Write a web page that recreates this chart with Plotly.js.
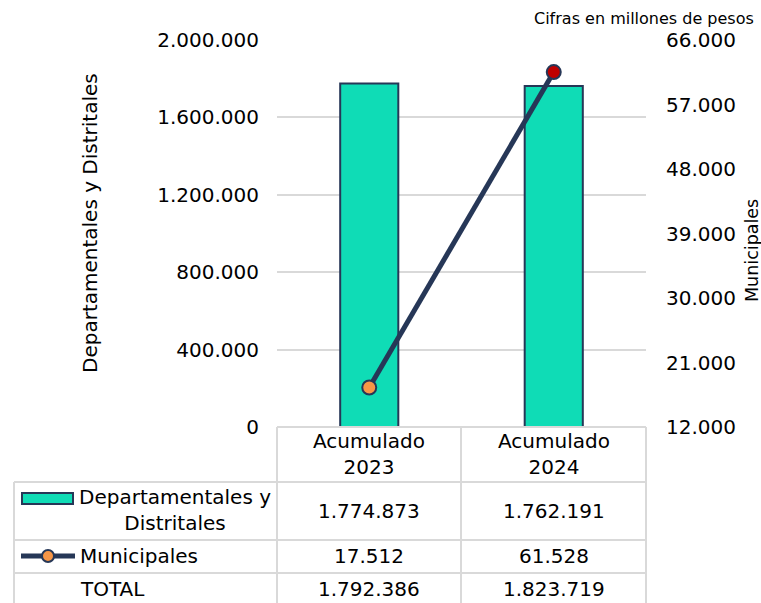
<!DOCTYPE html>
<html>
<head>
<meta charset="utf-8">
<script src="https://cdn.plot.ly/plotly-3.0.1.min.js"></script>
<style>html,body{margin:0;padding:0;background:#fff;}#chart{width:761px;height:603px;}</style>
</head>
<body>
<div id="chart"></div>
<script>
// ---- data ----
const categories = ['Acumulado 2023', 'Acumulado 2024'];
const headerLabels = ['Acumulado<br>2023', 'Acumulado<br>2024'];
const deptValues = [1774873, 1762191];
const muniValues = [17512, 61528];
const totalValues = [1792386, 1823719];
const seriesNames = ['Departamentales y<br>Distritales', 'Municipales', 'TOTAL'];
const leftTitle = 'Departamentales y Distritales';
const rightTitle = 'Municipales';
const noteText = 'Cifras en millones de pesos';

// ---- layout constants (pixels) ----
const W = 761, H = 603;
const L = 277, R = 646, T = 40, B = 427;
const pw = R - L, ph = B - T;
const px = x => (x - L) / pw;
const py = y => (B - y) / ph;
const FONT = 'DejaVu Sans, Verdana, sans-serif';
const grid = '#d9d9d9';
const navy = '#263757';
const teal = '#0fdcb6';
const FS = 20;

function fmt(n) { return Math.round(n).toString().replace(/\B(?=(\d{3})+(?!\d))/g, '.'); }

const traces = [
  {
    type: 'bar', x: categories, y: deptValues, name: 'Departamentales y Distritales',
    width: 0.315, marker: {color: teal, line: {color: navy, width: 2}},
    hoverinfo: 'skip'
  },
  {
    type: 'scatter', mode: 'lines+markers', x: categories, y: muniValues, yaxis: 'y2',
    name: 'Municipales',
    line: {color: navy, width: 5},
    marker: {size: 14, color: ['#f79646', '#c00000'], line: {color: navy, width: 2}},
    hoverinfo: 'skip'
  }
];

// ---- table (shapes + annotations) ----
const shapes = [];
function hline(x0, x1, y) { shapes.push({type: 'line', xref: 'paper', yref: 'paper', x0: px(x0), x1: px(x1), y0: py(y), y1: py(y), line: {color: grid, width: 2}}); }
function vline(x, y0, y1) { shapes.push({type: 'line', xref: 'paper', yref: 'paper', x0: px(x), x1: px(x), y0: py(y0), y1: py(y1), line: {color: grid, width: 2}}); }
hline(277, 646, 427);
hline(14, 646, 482);
hline(14, 646, 540);
hline(14, 646, 573);
vline(14, 482, 610);
vline(277, 427, 610);
vline(461, 427, 610);
vline(646, 427, 610);
// legend swatches
shapes.push({type: 'rect', xref: 'paper', yref: 'paper', x0: px(22), x1: px(73), y0: py(504), y1: py(493), fillcolor: teal, line: {color: navy, width: 2}});
shapes.push({type: 'line', xref: 'paper', yref: 'paper', x0: px(21), x1: px(75), y0: py(556), y1: py(556), line: {color: navy, width: 5}});
shapes.push({type: 'circle', xref: 'paper', yref: 'paper', x0: px(42), x1: px(54), y0: py(562), y1: py(550), fillcolor: '#f79646', line: {color: navy, width: 2}});

const ann = [];
function txt(text, x, y, opts) {
  ann.push(Object.assign({text: text, xref: 'paper', yref: 'paper', x: px(x), y: py(y), showarrow: false,
    xanchor: 'center', yanchor: 'middle', font: {family: FONT, size: FS, color: '#000'}}, opts || {}));
}
const colCenters = [(277 + 461) / 2, (461 + 646) / 2];
const rowCenters = [454, 511, 556, 589];
for (let i = 0; i < categories.length; i++) {
  txt(headerLabels[i], colCenters[i], rowCenters[0]);
  txt(fmt(deptValues[i]), colCenters[i], rowCenters[1]);
  txt(fmt(muniValues[i]), colCenters[i], rowCenters[2]);
  txt(fmt(totalValues[i]), colCenters[i], rowCenters[3]);
}
txt(seriesNames[0], 175, 510, {align: 'center'});
txt(seriesNames[1], 78, rowCenters[2], {xanchor: 'left'});
txt(seriesNames[2], 78, rowCenters[3], {xanchor: 'left'});
// axis titles & note
txt(leftTitle, 90, 223, {textangle: -90, font: {family: FONT, size: 20, color: '#000'}});
txt(rightTitle, 752, 251, {textangle: -90, font: {family: FONT, size: 17.5, color: '#000'}});
txt(noteText, 756, 18, {xanchor: 'right', font: {family: FONT, size: 16, color: '#000'}});

const layout = {
  width: W, height: H,
  margin: {l: L, r: W - R, t: T, b: H - B, pad: 0},
  paper_bgcolor: '#fff', plot_bgcolor: '#fff',
  separators: ',.',
  showlegend: false,
  font: {family: FONT, size: FS, color: '#000'},
  xaxis: {type: 'category', showticklabels: false, showgrid: false, zeroline: false, showline: false, ticks: '', fixedrange: true},
  yaxis: {range: [0, 2000000], dtick: 400000, tick0: 0, tickformat: ',d', showgrid: true, gridcolor: grid, gridwidth: 2,
    zeroline: false, showline: false, ticks: '', ticklabelstandoff: 17, tickfont: {family: FONT, size: FS, color: '#000'}, automargin: false},
  yaxis2: {overlaying: 'y', side: 'right', range: [12000, 66000], dtick: 9000, tick0: 12000, tickformat: ',d', showgrid: false,
    zeroline: false, showline: false, ticks: '', ticklabelstandoff: 19, tickfont: {family: FONT, size: FS, color: '#000'}, automargin: false},
  shapes: shapes,
  annotations: ann
};

Plotly.newPlot('chart', traces, layout, {staticPlot: true, displayModeBar: false});
</script>
</body>
</html>
